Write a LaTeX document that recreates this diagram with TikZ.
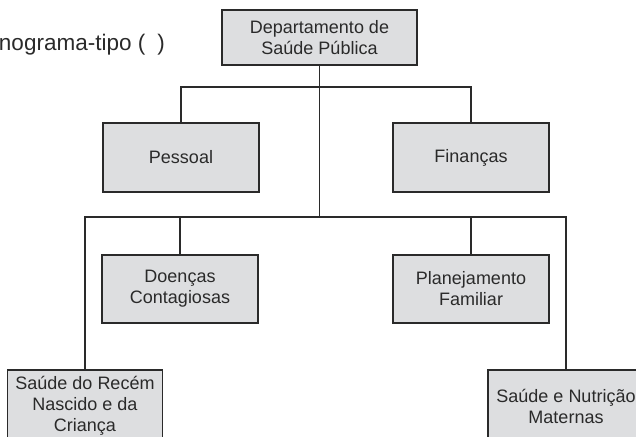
\documentclass[tikz,border=0pt]{standalone}
\usepackage{fontspec}
\setmainfont{Liberation Sans}
\definecolor{boxfill}{HTML}{DDDEE0}
\definecolor{ink}{HTML}{2A2A2A}
\begin{document}
\begin{tikzpicture}[x=1pt,y=-1pt,
  orgbox/.style={draw=ink, line width=1.5pt, fill=boxfill, text=ink, align=center,
    minimum width=156pt, minimum height=69pt, inner sep=0pt,
    font=\fontsize{18}{21}\selectfont},
  conn/.style={draw=ink, line width=1.3pt}]
\useasboundingbox (0,0) rectangle (636,436);
\clip (0,0) rectangle (636,436);
\node[anchor=base east, text=ink, font=\fontsize{22.5}{26}\selectfont, inner sep=0pt] (cap) at (165,50) {Organograma-tipo (\hspace{12pt})};
\node[orgbox, minimum width=195pt, minimum height=55pt] (top) at (319.5,37.5) {Departamento de\\Saúde Pública};
\node[orgbox] (pes) at (181,157.5) {Pessoal};
\node[orgbox] (fin) at (471,157.5) {Finanças};
\node[orgbox, minimum height=68pt] (doe) at (180,289) {Doenças\\Contagiosas};
\node[orgbox, minimum height=68pt] (pla) at (471,289) {Planejamento\\Familiar};
\node[orgbox, minimum width=155pt, minimum height=72pt] (lb) at (85,406) {Saúde do Recém\\Nascido e da\\Criança};
\node[orgbox, minimum height=72pt] (rb) at (566,406) {Saúde e Nutrição\\Maternas};
\coordinate (bus1) at (319.5,87);
\coordinate (bus2) at (319.5,217);
\draw[conn] (top.south) -- (bus2);
\draw[conn] (pes.north) |- (bus1) -| (fin.north);
\draw[conn] (lb.north) |- (bus2) -| (rb.north);
\draw[conn] (doe.north) -- (doe.north |- bus2);
\draw[conn] (pla.north) -- (pla.north |- bus2);
\end{tikzpicture}
\end{document}
